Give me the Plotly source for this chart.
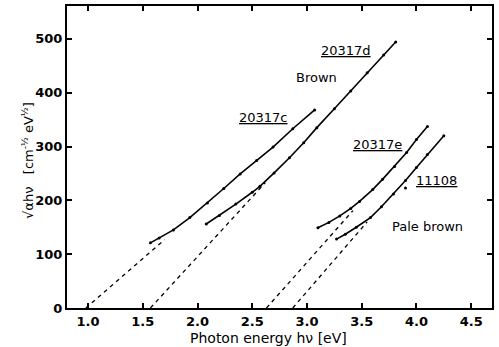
import plotly.graph_objects as go

# --- data ---
c_x = [1.57, 1.65, 1.78, 1.93, 2.09, 2.24, 2.39, 2.54, 2.69, 2.87, 3.07]
c_y = [121, 130, 145, 168, 195, 222, 249, 274, 299, 333, 368]

d_x = [2.08, 2.20, 2.35, 2.50, 2.57, 2.70, 2.84, 2.97, 3.09, 3.25, 3.40, 3.55, 3.70, 3.81]
d_y = [156, 172, 193, 215, 226, 251, 279, 307, 335, 370, 403, 437, 470, 494]

e_x = [3.10, 3.20, 3.30, 3.40, 3.48, 3.60, 3.69, 3.80, 3.91, 4.00, 4.10]
e_y = [149, 159, 171, 185, 198, 220, 239, 263, 289, 313, 337]

p_x = [3.27, 3.35, 3.45, 3.58, 3.68, 3.79, 3.90, 4.00, 4.10, 4.25]
p_y = [128, 137, 150, 168, 188, 212, 237, 261, 285, 320]

stray_x = [3.90]
stray_y = [223]

# linear extrapolations (dashed): [x at zero, x end], [0, y end]
c_fit_x = [0.98, 1.70]
c_fit_y = [0, 127]
d_fit_x = [1.57, 2.62]
d_fit_y = [0, 233]
e_fit_x = [2.63, 3.42]
e_fit_y = [0, 181]
p_fit_x = [2.87, 3.55]
p_fit_y = [0, 160]

x_ticks = [1.0, 1.5, 2.0, 2.5, 3.0, 3.5, 4.0, 4.5]
x_tick_text = ["1.0", "1.5", "2.0", "2.5", "3.0", "3.5", "4.0", "4.5"]
y_ticks = [0, 100, 200, 300, 400, 500]

labels = [
    ("<u>20317d</u>", 3.36, 478),
    ("Brown", 3.09, 428),
    ("<u>20317c</u>", 2.60, 353),
    ("<u>20317e</u>", 3.64, 303),
    ("<u>11108</u>", 4.18, 236),
    ("Pale brown", 4.10, 151),
]

FONT = "DejaVu Sans"
fig = go.Figure()

for fx, fy in [(c_fit_x, c_fit_y), (d_fit_x, d_fit_y), (e_fit_x, e_fit_y), (p_fit_x, p_fit_y)]:
    fig.add_trace(go.Scatter(x=fx, y=fy, mode="lines",
                             line=dict(color="black", width=1.3, dash="4px,4px"),
                             showlegend=False, hoverinfo="skip"))

for sx, sy in [(c_x, c_y), (d_x, d_y), (e_x, e_y), (p_x, p_y)]:
    fig.add_trace(go.Scatter(x=sx, y=sy, mode="lines+markers",
                             line=dict(color="black", width=1.6),
                             marker=dict(color="black", size=3, symbol="circle"),
                             showlegend=False))

fig.add_trace(go.Scatter(x=stray_x, y=stray_y, mode="markers",
                         marker=dict(color="black", size=3), showlegend=False))

for txt, ax, ay in labels:
    fig.add_annotation(x=ax, y=ay, text=txt, showarrow=False,
                       font=dict(family=FONT, size=13, color="black"))

fig.add_annotation(xref="paper", yref="paper", x=0.473, y=-0.1,
                   xanchor="center", yanchor="middle",
                   text="Photon energy hν [eV]", showarrow=False,
                   font=dict(family=FONT, size=14, color="black"))
fig.add_annotation(xref="paper", yref="paper", x=-0.092, y=0.49,
                   xanchor="center", yanchor="middle",
                   text="√αhν   [cm<sup>-½</sup> eV<sup>½</sup>]", textangle=-90,
                   showarrow=False, font=dict(family=FONT, size=13, color="black"))

axis_common = dict(showgrid=False, zeroline=False, showline=True, linecolor="black",
                   linewidth=2, mirror="ticks", ticks="inside", ticklen=5,
                   tickwidth=1.5, tickcolor="black", automargin=False,
                   tickfont=dict(family=FONT, size=13, color="black", weight="bold"))

fig.update_xaxes(range=[0.808, 4.69], tickvals=x_ticks, ticktext=x_tick_text, **axis_common)
fig.update_yaxes(range=[0, 561], tickvals=y_ticks, **axis_common)

fig.update_layout(width=499, height=347, margin=dict(l=67, r=7, t=6, b=39, autoexpand=False),
                  plot_bgcolor="white", paper_bgcolor="white")

fig.write_html("out.html", config={"displayModeBar": False},
               post_script="document.body.style.margin='0';")
